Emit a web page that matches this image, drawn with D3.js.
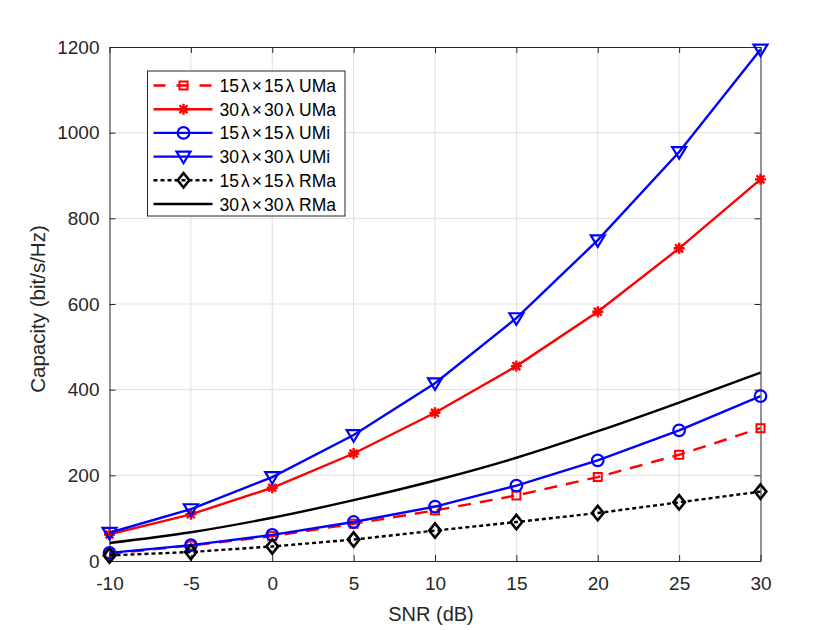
<!DOCTYPE html>
<html><head><meta charset="utf-8">
<script src="https://cdn.jsdelivr.net/npm/d3@7"></script>
<style>
body{margin:0;background:#fff;}
text{font-family:"Liberation Sans",Arial,Helvetica,sans-serif;}
</style></head>
<body>
<svg id="chart" width="840" height="630"></svg>
<script>
const snr = [-10, -5, 0, 5, 10, 15, 20, 25, 30];
const uma15 = [17, 36, 58, 87, 118, 153, 196, 248, 310];
const uma30 = [62, 109, 171, 251, 346, 455, 582, 730, 891];
const umi15 = [19, 37, 61, 91, 127, 176, 235, 305, 385];
const umi30 = [66, 121, 196, 294, 415, 567, 749, 955, 1194];
const rma15 = [13, 21, 34, 50, 71, 91, 112, 137, 162];
const rma30 = [42, 67, 101, 142, 188, 241, 303, 370, 440];
const xTicks = [-10, -5, 0, 5, 10, 15, 20, 25, 30];
const yTicks = [0, 200, 400, 600, 800, 1000, 1200];
const legendLabels = ["15λ×15λ UMa", "30λ×30λ UMa", "15λ×15λ UMi", "30λ×30λ UMi", "15λ×15λ RMa", "30λ×30λ RMa"];

const series = [
  {name: legendLabels[0], values: uma15, color: "#ff0000", dash: "13,9", legendDash: "12,11,12,11,12", marker: "square"},
  {name: legendLabels[1], values: uma30, color: "#ff0000", dash: null, marker: "asterisk"},
  {name: legendLabels[2], values: umi15, color: "#0000ff", dash: null, marker: "circle"},
  {name: legendLabels[3], values: umi30, color: "#0000ff", dash: null, marker: "triangle"},
  {name: legendLabels[4], values: rma15, color: "#000000", dash: "4,3", legendDash: "4,3", marker: "diamond"},
  {name: legendLabels[5], values: rma30, color: "#000000", dash: null, marker: null, smooth: true}
];

const svg = d3.select("#chart");
const L = 109.5, R = 760.5, T = 47, B = 561;
const x = d3.scaleLinear().domain([-10, 30]).range([L, R]);
const y = d3.scaleLinear().domain([0, 1200]).range([B, T]);

// grid
const grid = svg.append("g");
grid.selectAll("line.gx").data(xTicks.slice(1, -1)).enter().append("line")
  .attr("x1", d => x(d)).attr("x2", d => x(d)).attr("y1", T).attr("y2", B)
  .attr("stroke", "#dfdfdf").attr("stroke-width", 1);
grid.selectAll("line.gy").data(yTicks.slice(1, -1)).enter().append("line")
  .attr("y1", d => y(d)).attr("y2", d => y(d)).attr("x1", L).attr("x2", R)
  .attr("stroke", "#dfdfdf").attr("stroke-width", 1);

// axes
const tickColor = "#262626";
const fmt = d => String(d);
const xAxis = d3.axisBottom(x).tickValues(xTicks).tickSizeInner(-6).tickSizeOuter(0).tickPadding(16).tickFormat(fmt);
const yAxis = d3.axisLeft(y).tickValues(yTicks).tickSizeInner(-6).tickSizeOuter(0).tickPadding(10).tickFormat(fmt);
const gx = svg.append("g").attr("transform", `translate(0,${B})`).call(xAxis);
const gy = svg.append("g").attr("transform", `translate(${L},0)`).call(yAxis);
const gxt = svg.append("g").attr("transform", `translate(0,${T})`).call(d3.axisTop(x).tickValues(xTicks).tickSizeInner(-6).tickSizeOuter(0).tickFormat(""));
const gyr = svg.append("g").attr("transform", `translate(${R},0)`).call(d3.axisRight(y).tickValues(yTicks).tickSizeInner(-6).tickSizeOuter(0).tickFormat(""));
[gx, gy, gxt, gyr].forEach(g => {
  g.select(".domain").attr("stroke", tickColor).attr("stroke-width", 1);
  g.selectAll(".tick line").attr("stroke", tickColor);
  g.selectAll(".tick text").attr("fill", tickColor).style("font-size", "19px").style("font-family", '"Liberation Sans",Arial,sans-serif');
});

// axis labels
svg.append("text").attr("x", 431).attr("y", 621).attr("text-anchor", "middle")
  .attr("fill", tickColor).style("font-size", "20px").text("SNR (dB)");
svg.append("text").attr("transform", `translate(45,309) rotate(-90)`).attr("text-anchor", "middle")
  .attr("fill", tickColor).style("font-size", "20.5px").text("Capacity (bit/s/Hz)");

// markers
function drawMarker(g, type, cx, cy, color) {
  if (type === "square") {
    g.append("rect").attr("x", cx - 4).attr("y", cy - 4).attr("width", 8).attr("height", 8)
      .attr("fill", "none").attr("stroke", color).attr("stroke-width", 2);
  } else if (type === "circle") {
    g.append("circle").attr("cx", cx).attr("cy", cy).attr("r", 5.8)
      .attr("fill", "none").attr("stroke", color).attr("stroke-width", 2.2);
  } else if (type === "triangle") {
    const s = 7;
    g.append("path").attr("d", `M${cx - s},${cy - s * 0.7}L${cx + s},${cy - s * 0.7}L${cx},${cy + s * 0.95}Z`)
      .attr("fill", "none").attr("stroke", color).attr("stroke-width", 2.2);
  } else if (type === "diamond") {
    g.append("path").attr("d", `M${cx},${cy - 7.2}L${cx + 5.8},${cy}L${cx},${cy + 7.2}L${cx - 5.8},${cy}Z`)
      .attr("fill", "none").attr("stroke", "#000").attr("stroke-width", 2.6);
  } else if (type === "asterisk") {
    const s = 5.5, d = s * 0.72;
    g.append("path").attr("d", `M${cx - s},${cy}L${cx + s},${cy}M${cx},${cy - s}L${cx},${cy + s}M${cx - d},${cy - d}L${cx + d},${cy + d}M${cx - d},${cy + d}L${cx + d},${cy - d}`)
      .attr("fill", "none").attr("stroke", color).attr("stroke-width", 2.4);
  }
}

const plot = svg.append("g");
series.forEach(s => {
  const line = d3.line().x((d, i) => x(snr[i])).y(d => y(d)).curve(s.smooth ? d3.curveMonotoneX : d3.curveLinear);
  const p = plot.append("path").datum(s.values).attr("d", line)
    .attr("fill", "none").attr("stroke", s.color).attr("stroke-width", 2.4);
  if (s.dash) p.attr("stroke-dasharray", s.dash);
  if (s.marker) {
    const mg = plot.append("g");
    s.values.forEach((v, i) => drawMarker(mg, s.marker, x(snr[i]), y(v), s.color));
  }
});

// legend
const lg = svg.append("g");
const lx = 147.5, ly = 71, lw = 197.5, lh = 145;
lg.append("rect").attr("x", lx).attr("y", ly).attr("width", lw).attr("height", lh)
  .attr("fill", "#fff").attr("stroke", "#262626").attr("stroke-width", 1);
series.forEach((s, i) => {
  const yy = ly + 14.5 + i * 23.7;
  const ln = lg.append("line").attr("x1", lx + 6).attr("x2", lx + 65).attr("y1", yy).attr("y2", yy)
    .attr("stroke", s.color).attr("stroke-width", 2.4);
  if (s.legendDash) ln.attr("stroke-dasharray", s.legendDash);
  if (s.marker) drawMarker(lg, s.marker, lx + 36, yy, s.color);
  const parts = s.name.match(/^(\d+)λ×(\d+)λ (.*)$/);
  const t = lg.append("text").attr("x", lx + 72).attr("y", yy + 6.5).attr("fill", "#000").style("font-size", "17.5px");
  t.append("tspan").text(parts[1]);
  t.append("tspan").attr("dx", 2).text("λ");
  t.append("tspan").attr("dx", 2).text("×");
  t.append("tspan").attr("dx", 2).text(parts[2]);
  t.append("tspan").attr("dx", 2).text("λ");
  t.append("tspan").attr("dx", 0).text(" " + parts[3]);
});
</script>
</body></html>
